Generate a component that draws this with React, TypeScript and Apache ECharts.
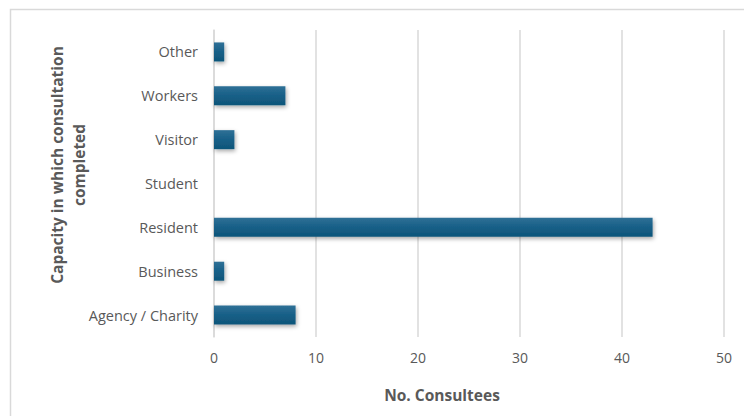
import React, { useEffect, useRef } from "react";
import * as echarts from "echarts";

const categories = ["Agency / Charity", "Business", "Resident", "Student", "Visitor", "Workers", "Other"];
const values = [8, 1, 43, 0, 2, 7, 1];
const xTicks = { min: 0, max: 50, interval: 10 };
const yTitle = "Capacity in which consultation\ncompleted";
const xTitle = "No. Consultees";

export default function App() {
  const ref = useRef<HTMLDivElement>(null);
  useEffect(() => {
    if (!ref.current) return;
    const chart = echarts.init(ref.current, null, { renderer: "svg" });
    const font = "'Open Sans', 'Noto Sans', sans-serif";
    chart.setOption({
      animation: false,
      backgroundColor: "#ffffff",
      grid: { left: 214, right: 20, top: 30, bottom: 79, containLabel: false },
      xAxis: {
        type: "value",
        min: xTicks.min,
        max: xTicks.max,
        interval: xTicks.interval,
        axisLine: { show: false },
        axisTick: { show: false },
        axisLabel: { color: "#595959", fontSize: 14, fontFamily: font, margin: 13 },
        splitLine: { show: true, lineStyle: { color: "#d9d9d9", width: 1.5 } },
      },
      yAxis: {
        type: "category",
        data: categories,
        axisLine: { show: true, lineStyle: { color: "#d9d9d9", width: 1.5 } },
        axisTick: { show: false },
        axisLabel: { color: "#595959", fontSize: 14.5, fontFamily: font, margin: 16 },
      },
      series: [
        {
          type: "bar",
          data: values,
          barWidth: 19,
          itemStyle: {
            color: new echarts.graphic.LinearGradient(0, 0, 0, 1, [
              { offset: 0, color: "#2f7096" },
              { offset: 0.5, color: "#175f87" },
              { offset: 1, color: "#0e5579" },
            ]),
            shadowColor: "rgba(0,0,0,0.35)",
            shadowBlur: 4,
            shadowOffsetX: 1,
            shadowOffsetY: 2,
          },
        },
      ],
      graphic: [
        {
          type: "rect",
          shape: { x: 10.5, y: 9.5, width: 745, height: 420 },
          style: { fill: "none", stroke: "#d9d9d9", lineWidth: 1.5 },
          silent: true,
          z: -1,
        },
        {
          type: "text",
          x: 68,
          y: 165,
          rotation: Math.PI / 2,
          style: {
            text: yTitle,
            fill: "#595959",
            font: `bold 15.5px ${font}`,
            align: "center",
            verticalAlign: "middle",
            lineHeight: 22,
          },
        },
        {
          type: "text",
          x: 442,
          y: 395,
          style: {
            text: xTitle,
            fill: "#595959",
            font: `bold 15.5px ${font}`,
            align: "center",
            verticalAlign: "middle",
          },
        },
      ],
    });
    return () => chart.dispose();
  }, []);
  return <div ref={ref} style={{ position: "absolute", left: 0, top: 0, width: 744, height: 416 }} />;
}
